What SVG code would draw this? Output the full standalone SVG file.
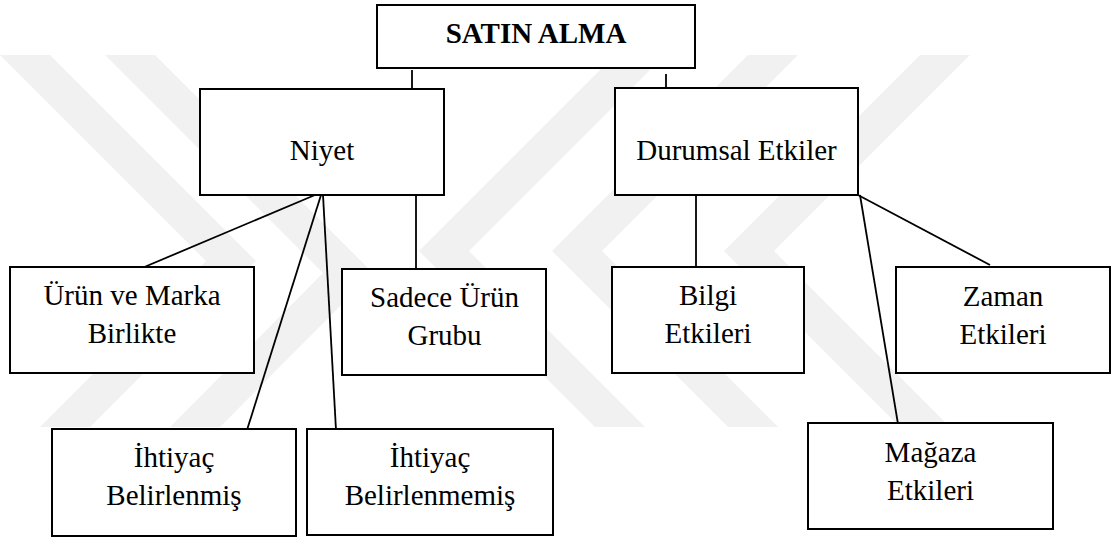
<svg xmlns="http://www.w3.org/2000/svg" width="1111" height="539" viewBox="0 0 1111 539">
  <style>
    .box { fill: #ffffff; stroke: #000000; stroke-width: 2; }
    .lbl { font-size: 29px; fill: #000000; text-anchor: middle; }
    .title { font-weight: bold; }
    .wire { stroke: #000000; stroke-width: 1.8; fill: none; }
    .mark { fill: #f1f1f1; }
  </style>
  <rect x="0" y="0" width="1111" height="539" fill="#ffffff"/>

  <!-- faint background chevrons -->
  <g id="background">
    <polygon class="mark" points="0,55 50,55 256,261 90,427 40,427 206,261"/>
    <polygon class="mark" points="105,55 155,55 373,273 220,427 170,427 323,273"/>
    <polygon class="mark" points="615,55 665,55 469,251 645,427 595,427 419,251"/>
    <polygon class="mark" points="748,55 798,55 602,251 778,427 728,427 552,251"/>
    <polygon class="mark" points="920,55 970,55 774,251 950,427 900,427 724,251"/>
  </g>

  <!-- connectors -->
  <g id="connectors">
    <line class="wire" x1="412" y1="70" x2="412" y2="117"/>
    <line class="wire" x1="666" y1="74" x2="666" y2="120"/>
    <line class="wire" x1="315" y1="195" x2="142" y2="268"/>
    <line class="wire" x1="321" y1="195" x2="247" y2="430"/>
    <line class="wire" x1="323" y1="195" x2="336" y2="430"/>
    <line class="wire" x1="416" y1="195" x2="416" y2="270"/>
    <line class="wire" x1="696" y1="195" x2="696" y2="266"/>
    <line class="wire" x1="858" y1="195" x2="990" y2="265"/>
    <line class="wire" x1="860" y1="195" x2="898" y2="424"/>
  </g>

  <g id="nodes" font-family="'Liberation Serif', 'Times New Roman', serif">
    <g id="satin-alma">
      <rect class="box" x="377" y="5" width="318" height="63"/>
      <text class="lbl title" x="536" y="43">SATIN ALMA</text>
    </g>

    <g id="niyet">
      <rect class="box" x="200" y="89" width="244" height="106"/>
      <text class="lbl" x="322" y="160">Niyet</text>
    </g>

    <g id="durumsal-etkiler">
      <rect class="box" x="615" y="88" width="243" height="107"/>
      <text class="lbl" x="736.5" y="160">Durumsal Etkiler</text>
    </g>

    <g id="urun-ve-marka">
      <rect class="box" x="10" y="267" width="244" height="106"/>
      <text class="lbl" x="132" y="305">Ürün ve Marka</text>
      <text class="lbl" x="132" y="343">Birlikte</text>
    </g>

    <g id="sadece-urun">
      <rect class="box" x="342" y="269" width="204" height="106"/>
      <text class="lbl" x="444.5" y="307">Sadece Ürün</text>
      <text class="lbl" x="444.5" y="345">Grubu</text>
    </g>

    <g id="ihtiyac-belirlenmis">
      <rect class="box" x="52" y="429" width="244" height="107"/>
      <text class="lbl" x="174" y="467">İhtiyaç</text>
      <text class="lbl" x="174" y="505">Belirlenmiş</text>
    </g>

    <g id="ihtiyac-belirlenmemis">
      <rect class="box" x="307" y="429" width="246" height="106"/>
      <text class="lbl" x="430" y="467">İhtiyaç</text>
      <text class="lbl" x="430" y="505">Belirlenmemiş</text>
    </g>

    <g id="bilgi-etkileri">
      <rect class="box" x="612" y="267" width="192" height="106"/>
      <text class="lbl" x="708" y="305">Bilgi</text>
      <text class="lbl" x="708" y="343">Etkileri</text>
    </g>

    <g id="zaman-etkileri">
      <rect class="box" x="896" y="267" width="214" height="106"/>
      <text class="lbl" x="1003" y="306">Zaman</text>
      <text class="lbl" x="1003" y="344">Etkileri</text>
    </g>

    <g id="magaza-etkileri">
      <rect class="box" x="808" y="423" width="245" height="106"/>
      <text class="lbl" x="930.5" y="462">Mağaza</text>
      <text class="lbl" x="930.5" y="500">Etkileri</text>
    </g>
  </g>
</svg>
